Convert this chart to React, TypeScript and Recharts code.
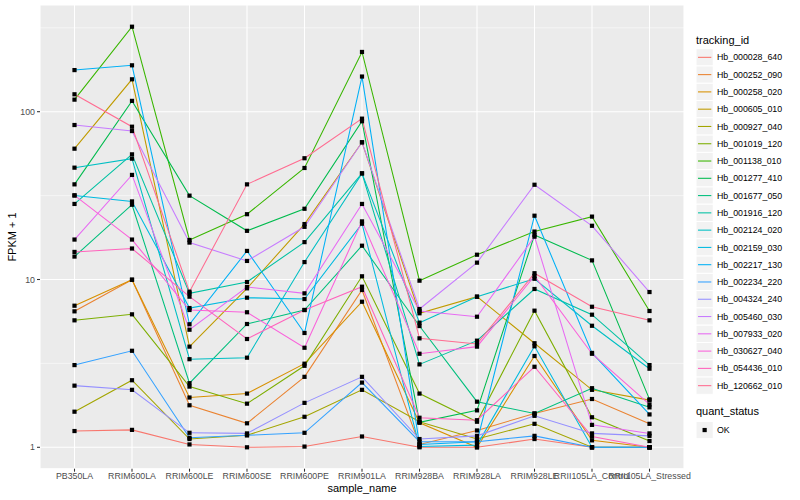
import { LineChart, Line, XAxis, YAxis, CartesianGrid, ReferenceLine } from "recharts";

// ─── Data ────────────────────────────────────────

const samples = [
  "PB350LA",
  "RRIM600LA",
  "RRIM600LE",
  "RRIM600SE",
  "RRIM600PE",
  "RRIM901LA",
  "RRIM928BA",
  "RRIM928LA",
  "RRIM928LE",
  "RRII105LA_Control",
  "RRII105LA_Stressed",
];

const hb_000028_640 = [1.25, 1.27, 1.04, 1.0, 1.01, 1.16, 1.0, 1.0, 1.12, 1.0, 1.0];
const hb_000252_090 = [6.46, 9.97, 1.78, 1.39, 2.63, 8.66, 1.04, 1.26, 1.59, 1.94, 1.38];
const hb_000258_020 = [6.98, 9.97, 1.98, 2.09, 3.15, 7.37, 1.4, 1.0, 3.5, 1.1, 1.0];
const hb_000605_010 = [60.2, 156, 3.98, 8.86, 21.4, 65.7, 6.29, 7.9, 4.17, 2.2, 1.91];
const hb_000927_040 = [1.63, 2.51, 1.12, 1.18, 1.52, 2.2, 1.42, 1.12, 1.38, 1.0, 1.0];
const hb_001019_120 = [5.71, 6.2, 2.3, 1.82, 3.06, 10.45, 2.09, 1.42, 6.52, 1.51, 1.09];
const hb_001138_010 = [118, 321, 17.2, 24.5, 46.2, 227, 9.84, 14.05, 19.3, 23.7, 6.49];
const hb_001277_410 = [36.9, 116, 31.6, 19.5, 26.4, 87.7, 1.41, 1.66, 18.4, 13.0, 1.93];
const hb_001677_050 = [13.7, 27.9, 2.41, 5.43, 6.58, 15.9, 5.28, 1.87, 1.59, 2.25, 1.73];
const hb_001916_120 = [28.2, 55.7, 8.27, 9.66, 16.7, 42.9, 3.12, 4.32, 8.78, 6.17, 3.09];
const hb_002124_020 = [46.4, 52.5, 3.35, 3.42, 12.7, 42.9, 5.53, 7.9, 10.1, 5.3, 2.94];
const hb_002159_030 = [31.7, 29.2, 6.76, 7.79, 7.65, 21.5, 1.01, 1.03, 4.0, 1.0, 1.0];
const hb_002217_130 = [177, 189, 5.41, 14.8, 4.8, 162, 1.04, 1.08, 24.0, 3.65, 1.57];
const hb_002234_220 = [3.09, 3.76, 1.14, 1.18, 1.22, 2.43, 1.08, 1.08, 1.17, 1.0, 1.0];
const hb_004324_240 = [2.33, 2.2, 1.22, 1.21, 1.84, 2.63, 1.12, 1.17, 1.54, 1.21, 1.17];
const hb_005460_030 = [83.3, 76.7, 16.6, 12.9, 20.6, 65.7, 6.67, 12.6, 36.7, 20.9, 8.42];
const hb_007933_020 = [17.3, 42, 5.02, 9.02, 8.27, 28.2, 6.49, 6.0, 18.0, 1.36, 1.21];
const hb_030627_040 = [31.7, 17.3, 6.58, 6.38, 3.92, 22.2, 3.61, 3.98, 10.5, 3.61, 1.8];
const hb_054436_010 = [14.6, 15.3, 7.9, 4.42, 6.58, 9.06, 1.5, 1.45, 3.02, 1.16, 1.0];
const hb_120662_010 = [127, 81.4, 8.46, 36.9, 52.8, 90.9, 4.46, 4.13, 10.9, 6.88, 5.71];

const trackingIds = [
  "Hb_000028_640",
  "Hb_000252_090",
  "Hb_000258_020",
  "Hb_000605_010",
  "Hb_000927_040",
  "Hb_001019_120",
  "Hb_001138_010",
  "Hb_001277_410",
  "Hb_001677_050",
  "Hb_001916_120",
  "Hb_002124_020",
  "Hb_002159_030",
  "Hb_002217_130",
  "Hb_002234_220",
  "Hb_004324_240",
  "Hb_005460_030",
  "Hb_007933_020",
  "Hb_030627_040",
  "Hb_054436_010",
  "Hb_120662_010",
];

const seriesValues = [
  hb_000028_640,
  hb_000252_090,
  hb_000258_020,
  hb_000605_010,
  hb_000927_040,
  hb_001019_120,
  hb_001138_010,
  hb_001277_410,
  hb_001677_050,
  hb_001916_120,
  hb_002124_020,
  hb_002159_030,
  hb_002217_130,
  hb_002234_220,
  hb_004324_240,
  hb_005460_030,
  hb_007933_020,
  hb_030627_040,
  hb_054436_010,
  hb_120662_010,
];

// ggplot hue palette, 20 levels
const colors = [
  "#F8766D", "#EA8331", "#D89000", "#C09B00", "#A3A500",
  "#7CAE00", "#39B600", "#00BB4E", "#00BF7D", "#00C1A3",
  "#00BFC4", "#00BAE0", "#00B0F6", "#35A2FF", "#9590FF",
  "#C77CFF", "#E76BF3", "#FA62DB", "#FF62BC", "#FF6C91",
];

const yTicks = [1, 10, 100];
const yMinor = [3.1623, 31.623, 316.23];

const chartData = samples.map((sample, i) => {
  const row: Record<string, string | number> = { sample };
  trackingIds.forEach((id, s) => {
    row[id] = seriesValues[s][i];
  });
  return row;
});

const FONT = "'Liberation Sans', Arial, Helvetica, sans-serif";

// ─── Square point (ggplot shape 15) ──────────────

function SquareDot(props: any) {
  const { cx, cy, index, dataKey } = props;
  if (cx == null || cy == null) return null;
  return (
    <rect
      key={`${dataKey}-${index}`}
      x={cx - 2.1}
      y={cy - 2.1}
      width={4.2}
      height={4.2}
      fill="#000000"
    />
  );
}

// ─── Overlay: axis titles + legends ──────────────

function Overlay() {
  const keySize = 17.28;
  const keyTop = 48.7;
  return (
    <svg
      width={800}
      height={500}
      style={{ position: "absolute", left: 0, top: 0, pointerEvents: "none" }}
      fontFamily={FONT}
    >
      <text x={362} y={492} fontSize={11} textAnchor="middle" fill="#000">
        sample_name
      </text>
      <text
        x={15.5}
        y={237}
        fontSize={11}
        textAnchor="middle"
        fill="#000"
        transform="rotate(-90 15.5 237)"
      >
        FPKM + 1
      </text>

      <text x={696} y={44} fontSize={11} fill="#000">
        tracking_id
      </text>
      {trackingIds.map((id, i) => {
        const top = keyTop + i * keySize;
        const mid = top + keySize / 2;
        return (
          <g key={id}>
            <rect x={696} y={top} width={keySize} height={keySize} fill="#F2F2F2" stroke="#FFFFFF" strokeWidth={1} />
            <line x1={698} x2={711.3} y1={mid} y2={mid} stroke={colors[i]} strokeWidth={1.07} />
            <text x={717} y={mid + 3.1} fontSize={8.8} fill="#000">
              {id}
            </text>
          </g>
        );
      })}

      <text x={696} y={415} fontSize={11} fill="#000">
        quant_status
      </text>
      <rect x={696} y={421.4} width={keySize} height={keySize} fill="#F2F2F2" stroke="#FFFFFF" strokeWidth={1} />
      <rect x={696 + keySize / 2 - 2.1} y={421.4 + keySize / 2 - 2.1} width={4.2} height={4.2} fill="#000" />
      <text x={717} y={421.4 + keySize / 2 + 3.1} fontSize={8.8} fill="#000">
        OK
      </text>
    </svg>
  );
}

// ─── Component ───────────────────────────────────

export default function App() {
  return (
    <div style={{ position: "absolute", left: 0, top: 0, width: 800, height: 500, background: "#fff" }}>
      <LineChart
        width={800}
        height={500}
        data={chartData}
        margin={{ top: 5, right: 116, bottom: 0, left: 0 }}
      >
        <CartesianGrid fill="#EBEBEB" stroke="#FFFFFF" strokeWidth={1.07} />
        {yMinor.map((v) => (
          <ReferenceLine key={v} y={v} stroke="#FFFFFF" strokeWidth={0.53} ifOverflow="hidden" />
        ))}
        <XAxis
          dataKey="sample"
          type="category"
          height={31.3}
          padding={{ left: 34.5, right: 34.5 }}
          interval={0}
          axisLine={false}
          tickLine={{ stroke: "#333333", strokeWidth: 1.07 }}
          tickSize={3}
          tickMargin={1}
          tick={{ fontSize: 8.8, fill: "#4D4D4D", fontFamily: FONT }}
        />
        <YAxis
          type="number"
          scale="log"
          domain={[0.7455, 432.4]}
          allowDataOverflow
          ticks={yTicks}
          width={40}
          axisLine={false}
          tickLine={{ stroke: "#333333", strokeWidth: 1.07 }}
          tickSize={3}
          tickMargin={2}
          tick={{ fontSize: 8.8, fill: "#4D4D4D", fontFamily: FONT }}
        />
        {trackingIds.map((id, i) => (
          <Line
            key={id}
            type="linear"
            dataKey={id}
            stroke={colors[i]}
            strokeWidth={1.07}
            dot={false}
            activeDot={false}
            isAnimationActive={false}
          />
        ))}
        {trackingIds.map((id) => (
          <Line
            key={`${id}-pts`}
            type="linear"
            dataKey={id}
            stroke="none"
            dot={SquareDot}
            activeDot={false}
            legendType="none"
            isAnimationActive={false}
          />
        ))}
      </LineChart>
      <Overlay />
    </div>
  );
}
